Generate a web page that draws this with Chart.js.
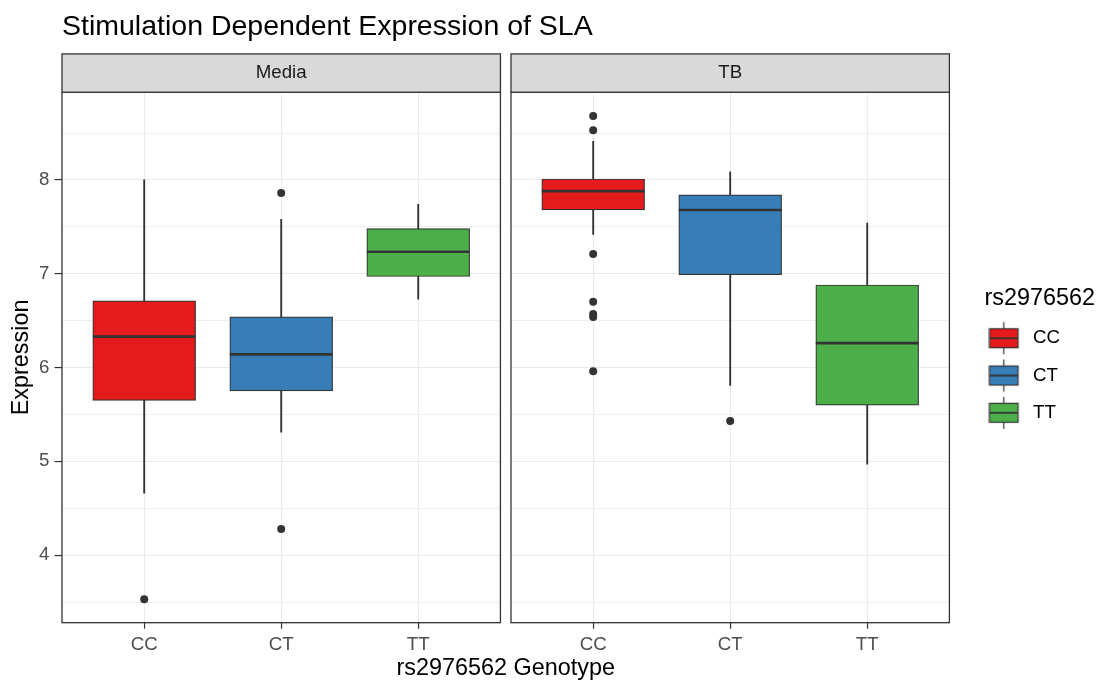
<!DOCTYPE html>
<html>
<head>
<meta charset="utf-8">
<script src="https://cdn.jsdelivr.net/npm/chart.js@4.4.1/dist/chart.umd.min.js"></script>
<style>
  html, body { margin: 0; background: #fff; }
  #wrap { position: relative; width: 1096px; height: 681px; }
</style>
</head>
<body>
<div id="wrap"><canvas id="chart"></canvas></div>
<script>
const panels = ['Media', 'TB'];
const genotypes = ['CC', 'CT', 'TT'];
const genotypeColors = ['#e41a1c', '#377eb8', '#4daf4a'];
const yTicks = [4, 5, 6, 7, 8];

// Media facet, one value per genotype (CC, CT, TT)
const mediaWhiskerLow = [4.66, 5.31, 6.73];
const mediaQ1 = [5.65, 5.75, 6.97];
const mediaMedian = [6.33, 6.14, 7.235];
const mediaQ3 = [6.71, 6.54, 7.48];
const mediaWhiskerHigh = [8.00, 7.58, 7.74];
const mediaOutliers = [[3.53], [7.86, 4.28], []];

// TB facet
const tbWhiskerLow = [7.42, 5.81, 4.97];
const tbQ1 = [7.68, 6.99, 5.60];
const tbMedian = [7.88, 7.68, 6.26];
const tbQ3 = [8.01, 7.84, 6.88];
const tbWhiskerHigh = [8.41, 8.085, 7.54];
const tbOutliers = [[8.68, 8.53, 7.21, 6.70, 6.57, 6.54, 5.96], [5.43], []];

const FONT = '"Liberation Sans", Arial, sans-serif';
const panelWidth = 3.2;
const facetGap = 0.077;
const xMin = 0.4;
const xMax = xMin + 2 * panelWidth + facetGap;
const xPos = (p, g) => 1 + g + p * (panelWidth + facetGap);
const panelStart = p => xMin + p * (panelWidth + facetGap);

const stats = [
  { low: mediaWhiskerLow, q1: mediaQ1, med: mediaMedian, q3: mediaQ3, high: mediaWhiskerHigh, out: mediaOutliers },
  { low: tbWhiskerLow, q1: tbQ1, med: tbMedian, q3: tbQ3, high: tbWhiskerHigh, out: tbOutliers }
];

const boxPx = 102.8;

const datasets = [];
genotypes.forEach((g, i) => {
  datasets.push({
    type: 'bar', label: g + ' whisker', order: 3, grouped: false,
    data: panels.map((_, p) => ({ x: xPos(p, i), y: [stats[p].low[i], stats[p].high[i]] })),
    backgroundColor: '#333333', borderWidth: 0, barThickness: 1.2
  });
  datasets.push({
    type: 'bar', label: g, order: 2, grouped: false,
    data: panels.map((_, p) => ({ x: xPos(p, i), y: [stats[p].q1[i], stats[p].q3[i]] })),
    backgroundColor: genotypeColors[i], borderColor: '#333333', borderWidth: 1.2,
    borderSkipped: false, barThickness: boxPx
  });
  datasets.push({
    type: 'scatter', label: g + ' median', order: 1,
    data: panels.map((_, p) => ({ x: xPos(p, i), y: stats[p].med[i] })),
    pointStyle: 'line', pointRadius: boxPx / 2, borderColor: '#333333', pointBorderWidth: 2.6
  });
  datasets.push({
    type: 'scatter', label: g + ' outliers', order: 0,
    data: panels.flatMap((_, p) => stats[p].out[i].map(v => ({ x: xPos(p, i), y: v }))),
    pointRadius: 4, backgroundColor: '#333333', borderWidth: 0
  });
});

function keyGlyph(color) {
  const c = document.createElement('canvas');
  c.width = 50; c.height = 34;
  const g = c.getContext('2d');
  const l = 1.2, w = 28.5, cx = l + w / 2;
  g.strokeStyle = '#333333';
  g.lineWidth = 1.2;
  g.beginPath(); g.moveTo(cx, 1); g.lineTo(cx, 33); g.stroke();
  g.fillStyle = color;
  g.fillRect(l, 7.5, w, 19);
  g.strokeRect(l, 7.5, w, 19);
  g.lineWidth = 1.8;
  g.beginPath(); g.moveTo(l, 17); g.lineTo(l + w, 17); g.stroke();
  return c;
}
const keyImages = genotypeColors.map(keyGlyph);

const minorTicks = [yTicks[0] - 0.5, ...yTicks.map(v => v + 0.5)];

const facetPlugin = {
  id: 'facets',
  afterLayout(chart) {
    // nudge legend right, keep room for its title
    chart.legend.left += 35;
    chart.legend.right = chart.width;
  },
  beforeDatasetsDraw(chart) {
    const { ctx, chartArea, scales: { x } } = chart;
    const gl = x.getPixelForValue(panelStart(0) + panelWidth);
    const gr = x.getPixelForValue(panelStart(1));
    ctx.save();
    ctx.fillStyle = '#ffffff';
    ctx.fillRect(gl, chartArea.top - 1, gr - gl, chartArea.height + 2);
    ctx.restore();
  },
  afterDatasetsDraw(chart) {
    const { ctx, chartArea, scales: { x } } = chart;
    const stripH = 38.3;
    ctx.save();
    panels.forEach((name, p) => {
      const l = x.getPixelForValue(panelStart(p));
      const r = x.getPixelForValue(panelStart(p) + panelWidth);
      ctx.strokeStyle = '#333333';
      ctx.lineWidth = 1.3;
      ctx.strokeRect(l, chartArea.top, r - l, chartArea.height);
      ctx.fillStyle = '#d9d9d9';
      ctx.fillRect(l, chartArea.top - stripH, r - l, stripH);
      ctx.strokeRect(l, chartArea.top - stripH, r - l, stripH);
      ctx.fillStyle = '#1a1a1a';
      ctx.font = '18.7px ' + FONT;
      ctx.textAlign = 'center';
      ctx.textBaseline = 'middle';
      ctx.fillText(name, (l + r) / 2, chartArea.top - stripH / 2);
    });
    ctx.restore();
  }
};

new Chart(document.getElementById('chart'), {
  type: 'bar',
  data: { datasets },
  plugins: [facetPlugin],
  options: {
    responsive: true,
    maintainAspectRatio: false,
    animation: false,
    events: [],
    layout: { padding: { left: 0, right: 61, top: 0, bottom: 0 } },
    plugins: {
      tooltip: { enabled: false },
      title: {
        display: true,
        text: 'Stimulation Dependent Expression of SLA',
        align: 'start',
        fullSize: false,
        color: '#000000',
        font: { family: FONT, size: 28.5, weight: 'normal' },
        padding: { top: 10.5, bottom: 47.5 }
      },
      legend: {
        position: 'right',
        align: 'center',
        fullSize: false,
        title: {
          display: true,
          text: 'rs2976562',
          position: 'start',
          color: '#000000',
          font: { family: FONT, size: 23.4, lineHeight: 0.8 },
          padding: { top: 13, bottom: 4.4 }
        },
        labels: {
          usePointStyle: true,
          pointStyleWidth: 20.65,
          padding: 18.6,
          color: '#000000',
          font: { family: FONT, size: 18.7 },
          generateLabels: () => genotypes.map((g, i) => ({
            text: g, pointStyle: keyImages[i], fillStyle: genotypeColors[i],
            strokeStyle: '#333333', lineWidth: 0, hidden: false, fontColor: '#000000'
          }))
        }
      }
    },
    scales: {
      x: {
        type: 'linear',
        min: xMin,
        max: xMax,
        offset: false,
        afterBuildTicks: scale => {
          scale.ticks = panels.flatMap((_, p) => genotypes.map((_, g) => ({ value: xPos(p, g) })));
        },
        afterFit: scale => { scale.height = 58.3; },
        ticks: {
          autoSkip: false, maxRotation: 0, padding: 5,
          color: '#4d4d4d',
          font: { family: FONT, size: 18.7 },
          callback: (v, i) => genotypes[i % genotypes.length]
        },
        grid: {
          offset: false, color: '#ebebeb', lineWidth: 1.1,
          drawTicks: true, tickLength: 6, tickColor: '#333333', tickWidth: 1.2
        },
        border: { display: false },
        title: {
          display: true, text: 'rs2976562 Genotype', color: '#000000',
          font: { family: FONT, size: 23.4, lineHeight: 1 },
          padding: { top: 0, bottom: 1 }
        }
      },
      y: {
        type: 'linear',
        min: 3.28,
        max: 8.935,
        afterBuildTicks: scale => {
          scale.ticks = [...yTicks, ...minorTicks].sort((a, b) => a - b).map(v => ({ value: v }));
        },
        afterFit: scale => { scale.width = 62; },
        ticks: {
          autoSkip: false, padding: 5,
          color: '#4d4d4d',
          font: { family: FONT, size: 18.7 },
          callback: v => (yTicks.includes(v) ? String(v) : '')
        },
        grid: {
          color: '#ebebeb',
          lineWidth: c => (yTicks.includes(c.tick && c.tick.value) ? 1.1 : 0.8),
          drawTicks: true, tickLength: 7.5,
          tickColor: c => (yTicks.includes(c.tick && c.tick.value) ? '#333333' : 'rgba(0,0,0,0)'),
          tickWidth: 1.2
        },
        border: { display: false },
        title: {
          display: true, text: 'Expression', color: '#000000',
          font: { family: FONT, size: 23.4, lineHeight: 1.2 },
          padding: { top: 8, bottom: 0 }
        }
      }
    }
  }
});
</script>
</body>
</html>
